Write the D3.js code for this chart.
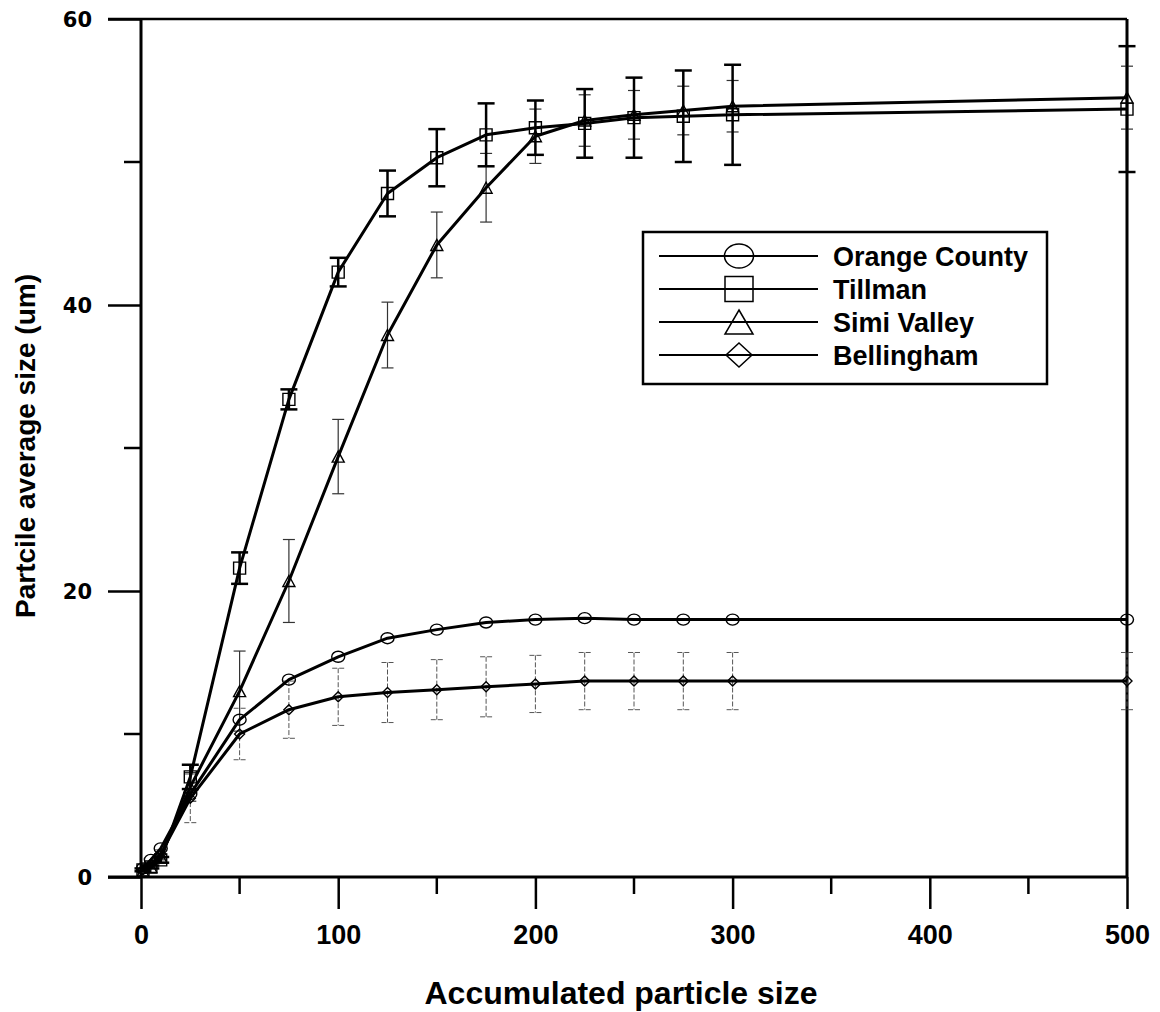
<!DOCTYPE html>
<html>
<head>
<meta charset="utf-8">
<script src="https://cdn.jsdelivr.net/npm/d3@7"></script>
<style>
  body { margin: 0; background: #fff; }
  svg { display: block; }
  text { font-family: "Liberation Sans", Arial, sans-serif; font-weight: bold; fill: #000; }
</style>
</head>
<body>
<svg id="chart" width="1160" height="1012"></svg>
<script>
// accumulated particle size (x) for every series
var sizes = [1, 5, 10, 25, 50, 75, 100, 125, 150, 175, 200, 225, 250, 275, 300, 500];

var orangeCounty = [0.6, 1.2, 2.0, 5.8, 11.0, 13.8, 15.4, 16.7, 17.3, 17.8, 18.0, 18.1, 18.0, 18.0, 18.0, 18.0];
var tillman      = [0.5, 0.7, 1.2, 7.0, 21.6, 33.4, 42.3, 47.8, 50.3, 51.9, 52.4, 52.7, 53.1, 53.2, 53.3, 53.7];
var tillmanErr   = [0.1, 0.1, 0.2, 0.85, 1.1, 0.7, 1.0, 1.6, 2.0, 2.2, 1.9, 2.4, 2.8, 3.2, 3.5, 4.4];
var simiValley   = [0.4, 0.7, 1.4, 6.3, 13.0, 20.7, 29.4, 37.9, 44.2, 48.2, 51.8, 52.9, 53.3, 53.6, 53.9, 54.5];
var simiErr      = [0.1, 0.1, 0.2, 1.0, 2.8, 2.9, 2.6, 2.3, 2.3, 2.4, 1.9, 1.8, 1.7, 1.7, 1.8, 2.2];
var bellingham   = [0.5, 0.9, 1.6, 5.5, 10.0, 11.7, 12.6, 12.9, 13.1, 13.3, 13.5, 13.7, 13.7, 13.7, 13.7, 13.7];
var bellErr      = [0.1, 0.1, 0.3, 1.7, 1.8, 2.0, 2.0, 2.1, 2.1, 2.1, 2.0, 2.0, 2.0, 2.0, 2.0, 2.0];

var seriesNames = ['Orange County', 'Tillman', 'Simi Valley', 'Bellingham'];
var seriesShapes = ['circle', 'square', 'triangle', 'diamond'];

var xTicks = [0, 100, 200, 300, 400, 500];
var xMinor = [50, 150, 250, 350, 450];
var yTicks = [0, 20, 40, 60];
var yMinor = [10, 30, 50];

var svg = d3.select('#chart');
var plotL = 141, plotR = 1127, plotT = 19, plotB = 877;

var x = d3.scaleLinear().domain([0, 500]).range([plotL, plotR]);
var y = d3.scaleLinear().domain([0, 60]).range([plotB, plotT]);

// frame: top and right borders
svg.append('line').attr('x1', 108).attr('x2', plotR).attr('y1', plotT).attr('y2', plotT)
	.attr('stroke', '#000').attr('stroke-width', 2.5);
svg.append('line').attr('x1', plotR).attr('x2', plotR).attr('y1', plotT).attr('y2', plotB)
	.attr('stroke', '#000').attr('stroke-width', 3);

// y axis (ticks outside, left)
var yAxis = d3.axisLeft(y).tickValues(yTicks).tickSize(33).tickPadding(16)
	.tickFormat(d3.format('d'));
var gy = svg.append('g').attr('transform', 'translate(' + plotL + ',0)').call(yAxis);
gy.select('.domain').remove();
gy.selectAll('.tick line').attr('stroke', '#000').attr('stroke-width', 2.5);
gy.selectAll('.tick text')
	.style('font-family', '"DejaVu Sans", sans-serif')
	.style('font-weight', 'bold')
	.style('font-size', '21px')
	.attr('dy', '0.36em');
gy.selectAll('.minor').data(yMinor).enter().append('line')
	.attr('x1', -17).attr('x2', 0)
	.attr('y1', function(d){ return y(d); })
	.attr('y2', function(d){ return y(d); })
	.attr('stroke', '#000').attr('stroke-width', 2.5);
svg.append('line').attr('x1', plotL).attr('x2', plotL).attr('y1', plotT).attr('y2', plotB)
	.attr('stroke', '#000').attr('stroke-width', 3);

// x axis (ticks outside, bottom)
var xAxis = d3.axisBottom(x).tickValues(xTicks).tickSize(32).tickPadding(16)
	.tickFormat(d3.format('d'));
var gx = svg.append('g').attr('transform', 'translate(0,' + plotB + ')').call(xAxis);
gx.select('.domain').remove();
gx.selectAll('.tick line').attr('stroke', '#000').attr('stroke-width', 2.5);
gx.selectAll('.tick text')
	.style('font-family', '"Liberation Sans", Arial, sans-serif')
	.style('font-weight', 'bold')
	.style('font-size', '27px')
	.attr('dy', '0.71em');
gx.selectAll('.minor').data(xMinor).enter().append('line')
	.attr('y1', 0).attr('y2', 17)
	.attr('x1', function(d){ return x(d); })
	.attr('x2', function(d){ return x(d); })
	.attr('stroke', '#000').attr('stroke-width', 2.5);
svg.append('line').attr('x1', 108).attr('x2', plotR).attr('y1', plotB).attr('y2', plotB)
	.attr('stroke', '#000').attr('stroke-width', 3);

// axis titles
svg.append('text')
	.attr('x', 621).attr('y', 1004)
	.attr('text-anchor', 'middle')
	.style('font-size', '32px')
	.text('Accumulated particle size');
svg.append('text')
	.attr('transform', 'translate(35,446) rotate(-90)')
	.attr('text-anchor', 'middle')
	.style('font-size', '28px')
	.text('Partcile average size (um)');

// error bars
function drawErrors(vals, errs, capW, width, color, dash){
	var g = svg.append('g')
		.attr('stroke', color)
		.attr('stroke-width', width)
		.attr('stroke-dasharray', dash);
	sizes.forEach(function(s, i){
		var cx = x(s);
		var hi = y(vals[i] + errs[i]);
		var lo = y(vals[i] - errs[i]);
		g.append('line').attr('x1', cx).attr('x2', cx).attr('y1', hi).attr('y2', lo);
		g.append('line').attr('x1', cx - capW/2).attr('x2', cx + capW/2).attr('y1', hi).attr('y2', hi);
		g.append('line').attr('x1', cx - capW/2).attr('x2', cx + capW/2).attr('y1', lo).attr('y2', lo);
	});
}
drawErrors(bellingham, bellErr, 12, 1, '#555', '5,2');
drawErrors(simiValley, simiErr, 12, 1.2, '#333', null);
drawErrors(tillman, tillmanErr, 17, 2.5, '#000', null);

// lines
var line = d3.line()
	.x(function(d){ return x(d[0]); })
	.y(function(d){ return y(d[1]); });
var allSeries = [orangeCounty, tillman, simiValley, bellingham];
allSeries.forEach(function(vals){
	svg.append('path')
		.datum(d3.zip(sizes, vals))
		.attr('d', line)
		.attr('fill', 'none')
		.attr('stroke', '#000')
		.attr('stroke-width', 3)
		.attr('stroke-linejoin', 'round');
});

// markers
function markerPath(shape, cx, cy, w, h){
	var p = d3.path();
	if(shape == 'square'){
		p.rect(cx - w/2, cy - h/2, w, h);
	}
	else if(shape == 'triangle'){
		p.moveTo(cx, cy - h/2);
		p.lineTo(cx + w/2, cy + h/2);
		p.lineTo(cx - w/2, cy + h/2);
		p.closePath();
	}
	else{
		p.moveTo(cx, cy - h/2);
		p.lineTo(cx + w/2, cy);
		p.lineTo(cx, cy + h/2);
		p.lineTo(cx - w/2, cy);
		p.closePath();
	}
	return p.toString();
}
function ellipsePath(cx, cy, rx, ry){
	return 'M' + (cx - rx) + ',' + cy +
		'a' + rx + ',' + ry + ' 0 1,0 ' + (2*rx) + ',0' +
		'a' + rx + ',' + ry + ' 0 1,0 ' + (-2*rx) + ',0Z';
}
var plotSizes = {circle: [13, 11], square: [12, 12], triangle: [12, 11], diamond: [10, 10]};
allSeries.forEach(function(vals, k){
	var shape = seriesShapes[k];
	var wh = plotSizes[shape];
	svg.append('g').selectAll('path')
		.data(d3.zip(sizes, vals))
		.enter()
		.append('path')
		.attr('d', function(d){
			if(shape == 'circle') return ellipsePath(x(d[0]), y(d[1]), wh[0]/2, wh[1]/2);
			return markerPath(shape, x(d[0]), y(d[1]), wh[0], wh[1]);
		})
		.attr('fill', 'none')
		.attr('stroke', '#000')
		.attr('stroke-width', 1.4);
});

// legend
var legend = svg.append('g');
legend.append('rect')
	.attr('x', 643).attr('y', 232).attr('width', 404).attr('height', 152)
	.attr('fill', '#fff').attr('stroke', '#000').attr('stroke-width', 2.5);
var legendSizes = {circle: [29, 24], square: [28, 25], triangle: [28, 24], diamond: [26, 24]};
seriesNames.forEach(function(name, k){
	var cy = 256 + k*33;
	var shape = seriesShapes[k];
	var wh = legendSizes[shape];
	legend.append('line')
		.attr('x1', 659).attr('x2', 818).attr('y1', cy).attr('y2', cy)
		.attr('stroke', '#000').attr('stroke-width', 2.2);
	legend.append('path')
		.attr('d', shape == 'circle' ? ellipsePath(739, cy, wh[0]/2, wh[1]/2)
			: markerPath(shape, 739, cy, wh[0], wh[1]))
		.attr('fill', 'none').attr('stroke', '#000').attr('stroke-width', 1.5);
	legend.append('text')
		.attr('x', 833).attr('y', cy + 10)
		.style('font-size', '27px')
		.text(name);
});
</script>
</body>
</html>
